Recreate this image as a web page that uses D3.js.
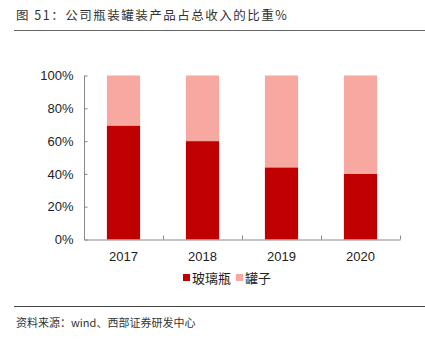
<!DOCTYPE html>
<html>
<head>
<meta charset="utf-8">
<script src="https://cdn.jsdelivr.net/npm/d3@7/dist/d3.min.js"></script>
<style>
 body{margin:0;background:#fff;}
 svg{display:block;}
</style>
</head>
<body>
<svg id="chart" width="425" height="341"></svg>
<script>
 // chart values
 const years=['2017','2018','2019','2020'];
 const glass=[0.695,0.60,0.44,0.40];   // 玻璃瓶
 const cans=glass.map(v=>1-v);         // 罐子 (remainder of 100%)
 const yTicks=[0,0.2,0.4,0.6,0.8,1];
 const seriesNames=['玻璃瓶','罐子'];
 const colours=['#c00000','#f7a8a0'];

 const svg=d3.select('#chart');
 const latin='"Liberation Sans",Arial,sans-serif';
 const cjk='"Noto Sans CJK SC",sans-serif';

// title and rules
 svg.append('text').attr('x',16).attr('y',20).attr('font-family',cjk).attr('font-size',12.5)
 .attr('letter-spacing',1.5).attr('fill','#333').text('图 51：公司瓶装罐装产品占总收入的比重%');
 svg.append('line').attr('x1',14).attr('x2',425).attr('y1',30.5).attr('y2',30.5).attr('stroke','#666').attr('stroke-width',1.2);
 svg.append('line').attr('x1',14).attr('x2',425).attr('y1',306.5).attr('y2',306.5).attr('stroke','#444').attr('stroke-width',1);
 svg.append('text').attr('x',16).attr('y',327).attr('font-family',cjk).attr('font-size',11)
 .attr('fill','#333').text('资料来源：wind、西部证券研发中心');

 const x=d3.scaleBand().domain(years).range([84,400]).paddingInner(0.58).paddingOuter(0.29);
 const y=d3.scaleLinear().domain([0,1]).range([239.5,75.5]);

 const rows=years.map((year,i)=>({year,glass:glass[i],cans:cans[i]}));
 const stacked=d3.stack().keys(['glass','cans'])(rows);

 svg.append('g').selectAll('g').data(stacked).join('g').attr('fill',(d,i)=>colours[i])
 .selectAll('rect').data(d=>d).join('rect')
 .attr('x',d=>x(d.data.year)).attr('width',x.bandwidth())
 .attr('y',d=>y(d[1])).attr('height',d=>y(d[0])-y(d[1]));

// axes
 const yAxis=svg.append('g').attr('transform','translate(84.5,0)')
 .call(d3.axisLeft(y).tickValues(yTicks).tickFormat(d3.format('.0%')).tickSizeInner(-3).tickSizeOuter(0).tickPadding(11));
 const xBand=d3.scaleBand().domain(years).range([84,400]);
 const xAxis=svg.append('g').attr('transform','translate(0,239.5)')
 .call(d3.axisBottom(xBand).tickSize(0).tickPadding(12));
 // inward boundary ticks between categories
 svg.append('g').selectAll('line').data(d3.range(years.length+1)).join('line')
 .attr('x1',i=>84.5+i*xBand.step()).attr('x2',i=>84.5+i*xBand.step())
 .attr('y1',239.5).attr('y2',235.5).attr('stroke','#888');
 [yAxis,xAxis].forEach(axis=>{
 axis.selectAll('path,line').attr('stroke','#888');
 axis.selectAll('text').attr('font-family',latin).attr('font-size',13).attr('fill','#222');
 });
 yAxis.select('.domain').attr('d','M0,239.5V75.5');

// legend
 const legend=svg.append('g').attr('font-family',cjk).attr('font-size',13).attr('fill','#222');
 const legendX=[183,236];
 seriesNames.forEach((name,i)=>{
 legend.append('rect').attr('x',legendX[i]).attr('y',274).attr('width',7).attr('height',7).attr('fill',colours[i]);
 legend.append('text').attr('x',legendX[i]+9).attr('y',282.5).text(name);
 });
</script>
</body>
</html>
